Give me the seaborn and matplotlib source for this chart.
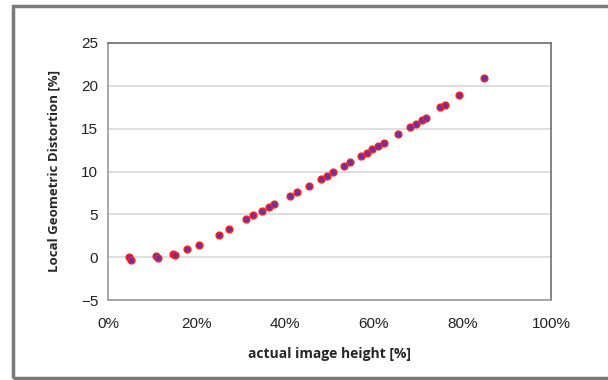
import matplotlib
matplotlib.use("Agg")
import matplotlib.pyplot as plt
from matplotlib.patches import Rectangle
from matplotlib.ticker import FuncFormatter
import seaborn as sns
import pandas as pd

# data (actual image height [%], local geometric distortion [%])
image_height = [4.7, 5.1, 10.8, 11.2, 14.7, 15.1, 17.8, 20.5, 25.1, 27.3, 31.2, 32.8,
                34.7, 36.3, 37.5, 41.1, 42.6, 45.4, 48.0, 49.5, 50.9, 53.3, 54.6,
                57.0, 58.4, 59.7, 61.0, 62.4, 65.5, 68.2, 69.5, 70.8, 71.7, 75.0,
                76.1, 79.3, 84.9]
distortion = [0.0, -0.3, 0.1, -0.05, 0.37, 0.3, 0.96, 1.42, 2.59, 3.33, 4.46, 4.92,
              5.39, 5.82, 6.2, 7.14, 7.6, 8.34, 9.09, 9.51, 9.9, 10.64, 11.07,
              11.8, 12.2, 12.6, 12.98, 13.3, 14.4, 15.2, 15.6, 16.0, 16.3, 17.5,
              17.8, 18.9, 20.9]
x_ticks = [0, 20, 40, 60, 80, 100]
y_ticks = [-5, 0, 5, 10, 15, 20, 25]

df = pd.DataFrame({"x": image_height, "y": distortion})

sns.set_style("white")
plt.rcParams['font.family'] = ['Liberation Sans Narrow', 'Liberation Sans', 'DejaVu Sans']

fig = plt.figure(figsize=(6.08, 3.8), dpi=100)
ax = fig.add_axes([108/608, 1-300/380, (551-108)/608, (300-43)/380])

sns.scatterplot(data=df, x="x", y="y", ax=ax, s=24, color="#7030A0",
                edgecolor="#FF2020", linewidth=1.0, zorder=3)

ax.set_xlim(0, 100)
ax.set_ylim(-5, 25)
ax.set_xticks(x_ticks)
ax.set_yticks(y_ticks)
ax.xaxis.set_major_formatter(FuncFormatter(lambda v, p: f"{int(v)}%"))
ax.yaxis.set_major_formatter(FuncFormatter(lambda v, p: f"\u2212{abs(int(v))}" if v < 0 else f"{int(v)}"))
ax.yaxis.grid(True, color="#d9d9d9", linewidth=1.2)
ax.set_axisbelow(True)
for s in ax.spines.values():
    s.set_color("#6e6e6e")
    s.set_linewidth(1.2)
ax.spines['left'].set_color("#9a9a9a")
ax.spines['bottom'].set_color("#9a9a9a")
ax.tick_params(axis='both', which='both', direction='out', length=4, width=1,
               color="#9a9a9a", labelsize=11, labelcolor="#222222")
ax.tick_params(axis='x', pad=8)
ax.tick_params(axis='y', pad=3)

ax.set_xlabel("actual image height [%]", fontsize=10, fontweight='bold',
              family=['Open Sans', 'DejaVu Sans'], labelpad=12)
ax.set_ylabel("Local Geometric Distortion [%]", fontsize=9.5, fontweight='bold',
              family=['Open Sans', 'DejaVu Sans'], labelpad=15)

# outer frame (right edge runs off the picture)
fig.patches.append(Rectangle((13/608, 2/380), 1.1, 1-8/380, transform=fig.transFigure,
                             fill=False, edgecolor="#7a7a7a", linewidth=2.5))

fig.savefig("out.png", dpi=100)
